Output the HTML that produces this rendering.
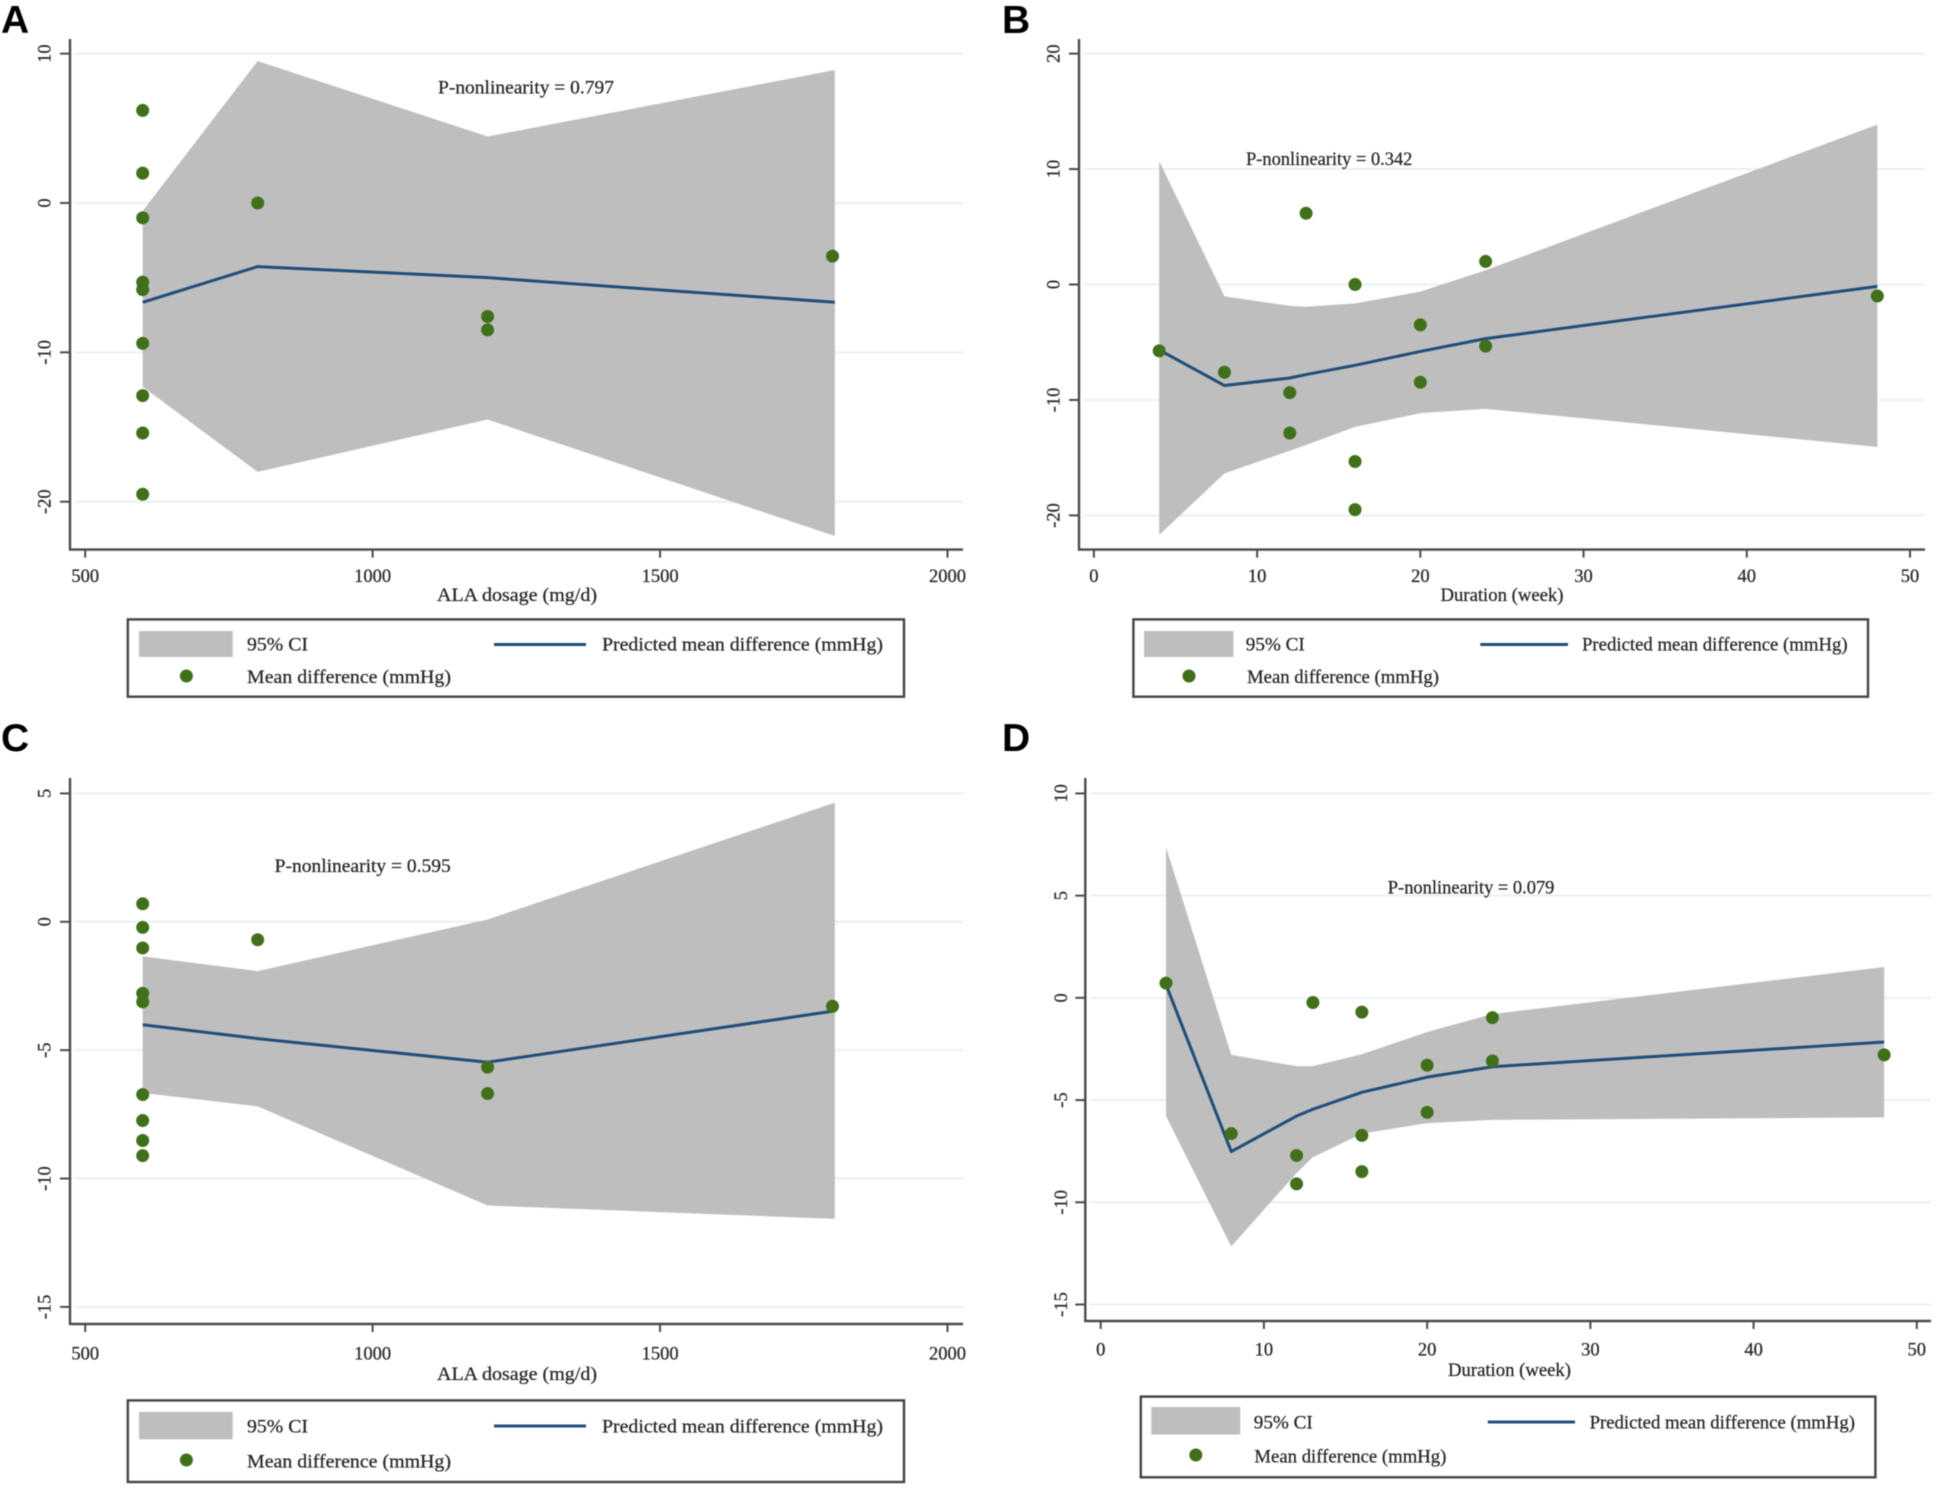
<!DOCTYPE html>
<html lang="en">
<head>
<meta charset="utf-8">
<title>Dose-response and duration-response meta-regression panels</title>
<style>
  html, body { margin: 0; padding: 0; background: #ffffff; }
  #figure { display: block; width: 1936px; height: 1488px; filter: blur(0.65px); }
  text { font-family: "Liberation Serif", serif; font-size: 18.5px; fill: #262626; stroke: #262626; stroke-width: 0.25; }
  .panel-letter { font-family: "Liberation Sans", sans-serif; font-weight: 700; font-size: 39px; fill: #000000; stroke: none; }
  .legend-box { fill: #ffffff; stroke: #444444; stroke-width: 2.4; }
  .legend-swatch { fill: #bebebe; }
  .legend-line { stroke: #1f4e79; stroke-width: 3; }
  .legend-dot { fill: #41701a; }
</style>
</head>
<body>
<svg id="figure" xmlns="http://www.w3.org/2000/svg" width="1936" height="1488" viewBox="0 0 1936 1488">
  <g id="marks-a"></g>
  <g id="marks-b"></g>
  <g id="marks-c"></g>
  <g id="marks-d"></g>

  <!-- Panel A -->
  <g>
    <text class="panel-letter" x="1" y="33">A</text>
    <text x="438" y="93.5" textLength="176" lengthAdjust="spacingAndGlyphs">P-nonlinearity = 0.797</text>
    <text x="437" y="601" textLength="160" lengthAdjust="spacingAndGlyphs">ALA dosage (mg/d)</text>
    <g>
      <rect class="legend-box" x="127.8" y="619.4" width="776.2" height="77.3"/>
      <rect class="legend-swatch" x="139" y="631" width="93.7" height="26"/>
      <text x="247" y="650.5" textLength="61" lengthAdjust="spacingAndGlyphs">95% CI</text>
      <line class="legend-line" x1="494" y1="644.5" x2="586" y2="644.5"/>
      <text x="602" y="650.5" textLength="281" lengthAdjust="spacingAndGlyphs">Predicted mean difference (mmHg)</text>
      <circle class="legend-dot" cx="186.4" cy="676" r="6.5"/>
      <text x="247" y="683" textLength="204" lengthAdjust="spacingAndGlyphs">Mean difference (mmHg)</text>
    </g>
  </g>

  <!-- Panel B -->
  <g>
    <text class="panel-letter" x="1002" y="33">B</text>
    <text x="1246" y="165" textLength="166.4" lengthAdjust="spacingAndGlyphs">P-nonlinearity = 0.342</text>
    <text x="1440.5" y="601" textLength="123" lengthAdjust="spacingAndGlyphs">Duration (week)</text>
    <g>
      <rect class="legend-box" x="1133.4" y="619.4" width="734.6" height="77.3"/>
      <rect class="legend-swatch" x="1144" y="631" width="89.4" height="26"/>
      <text x="1245.8" y="650.5" textLength="59" lengthAdjust="spacingAndGlyphs">95% CI</text>
      <line class="legend-line" x1="1480.3" y1="644.5" x2="1568" y2="644.5"/>
      <text x="1582" y="650.5" textLength="265.6" lengthAdjust="spacingAndGlyphs">Predicted mean difference (mmHg)</text>
      <circle class="legend-dot" cx="1189" cy="676" r="6.5"/>
      <text x="1247" y="683" textLength="192" lengthAdjust="spacingAndGlyphs">Mean difference (mmHg)</text>
    </g>
  </g>

  <!-- Panel C -->
  <g>
    <text class="panel-letter" x="1" y="751">C</text>
    <text x="274.7" y="872" textLength="176" lengthAdjust="spacingAndGlyphs">P-nonlinearity = 0.595</text>
    <text x="437" y="1380" textLength="160" lengthAdjust="spacingAndGlyphs">ALA dosage (mg/d)</text>
    <g>
      <rect class="legend-box" x="127.8" y="1400.4" width="776.2" height="81.6"/>
      <rect class="legend-swatch" x="139" y="1411.8" width="93.7" height="27.5"/>
      <text x="247" y="1432.5" textLength="61" lengthAdjust="spacingAndGlyphs">95% CI</text>
      <line class="legend-line" x1="494" y1="1426" x2="586" y2="1426"/>
      <text x="602" y="1432.5" textLength="281" lengthAdjust="spacingAndGlyphs">Predicted mean difference (mmHg)</text>
      <circle class="legend-dot" cx="186.4" cy="1460" r="6.5"/>
      <text x="247" y="1467.5" textLength="204" lengthAdjust="spacingAndGlyphs">Mean difference (mmHg)</text>
    </g>
  </g>

  <!-- Panel D -->
  <g>
    <text class="panel-letter" x="1002" y="751">D</text>
    <text x="1387.8" y="893.5" textLength="166.6" lengthAdjust="spacingAndGlyphs">P-nonlinearity = 0.079</text>
    <text x="1448" y="1376" textLength="123" lengthAdjust="spacingAndGlyphs">Duration (week)</text>
    <g>
      <rect class="legend-box" x="1140.8" y="1396.6" width="734.6" height="80.7"/>
      <rect class="legend-swatch" x="1151.3" y="1407" width="88.9" height="27.5"/>
      <text x="1253.8" y="1428.5" textLength="59" lengthAdjust="spacingAndGlyphs">95% CI</text>
      <line class="legend-line" x1="1487.8" y1="1422" x2="1575" y2="1422"/>
      <text x="1589.6" y="1428.5" textLength="265.4" lengthAdjust="spacingAndGlyphs">Predicted mean difference (mmHg)</text>
      <circle class="legend-dot" cx="1195.8" cy="1455" r="6.5"/>
      <text x="1254.4" y="1462.5" textLength="192" lengthAdjust="spacingAndGlyphs">Mean difference (mmHg)</text>
    </g>
  </g>
</svg>

<script>
// ---- Panel A data (ALA dosage vs mean difference) ----
const aXTicks = [500, 1000, 1500, 2000];
const aYTicks = [10, 0, -10, -20];
const aKnots = [600, 800, 1200, 1804];
const aUpper = [-0.54, 9.5, 4.45, 8.9];
const aLower = [-12.3, -18.0, -14.5, -22.3];
const aPredicted = [-6.65, -4.26, -5.0, -6.65];
const aPointX = [600, 600, 600, 600, 600, 600, 600, 600, 600, 800, 1200, 1200, 1800];
const aPointY = [6.2, 2.0, -1.0, -5.3, -5.8, -9.4, -12.9, -15.4, -19.5, 0, -7.6, -8.5, -3.56];

// ---- Panel B data (duration vs mean difference) ----
const bXTicks = [0, 10, 20, 30, 40, 50];
const bYTicks = [20, 10, 0, -10, -20];
const bKnots = [4, 8, 12, 13, 16, 20, 24, 48];
const bUpper = [10.7, -1.03, -1.85, -1.93, -1.64, -0.62, 1.23, 13.85];
const bLower = [-21.7, -16.36, -14.4, -13.9, -12.33, -11.14, -10.77, -14.06];
const bPredicted = [-5.67, -8.75, -8.1, -7.8, -7.0, -5.8, -4.69, -0.16];
const bPointX = [4, 8, 12, 12, 13, 16, 16, 16, 20, 20, 24, 24, 48];
const bPointY = [-5.75, -7.6, -9.37, -12.86, 6.17, 0, -15.33, -19.5, -3.5, -8.47, 2.0, -5.34, -1.0];

// ---- Panel C data (ALA dosage vs mean difference) ----
const cXTicks = [500, 1000, 1500, 2000];
const cYTicks = [5, 0, -5, -10, -15];
const cKnots = [600, 800, 1200, 1804];
const cUpper = [-1.35, -1.92, 0.09, 4.64];
const cLower = [-6.67, -7.19, -11.05, -11.57];
const cPredicted = [-4.01, -4.55, -5.47, -3.47];
const cPointX = [600, 600, 600, 600, 600, 600, 600, 600, 600, 800, 1200, 1200, 1800];
const cPointY = [0.7, -0.22, -1.02, -2.79, -3.12, -6.73, -7.74, -8.52, -9.11, -0.7, -5.66, -6.69, -3.29];

// ---- Panel D data (duration vs mean difference) ----
const dXTicks = [0, 10, 20, 30, 40, 50];
const dYTicks = [10, 5, 0, -5, -10, -15];
const dKnots = [4, 8, 12, 13, 16, 20, 24, 48];
const dUpper = [7.38, -2.79, -3.34, -3.34, -2.76, -1.67, -0.79, 1.51];
const dLower = [-5.78, -12.16, -8.57, -7.8, -6.64, -6.13, -5.97, -5.85];
const dPredicted = [0.65, -7.52, -5.78, -5.45, -4.62, -3.88, -3.37, -2.16];
const dPointX = [4, 8, 12, 12, 13, 16, 16, 16, 20, 20, 24, 24, 48];
const dPointY = [0.72, -6.64, -7.71, -9.1, -0.23, -0.7, -6.73, -8.5, -3.3, -5.6, -0.97, -3.09, -2.79];

const SVG_NS = 'http://www.w3.org/2000/svg';

function svgEl(tag, attrs, parent) {
  const el = document.createElementNS(SVG_NS, tag);
  Object.keys(attrs).forEach(function (k) { el.setAttribute(k, attrs[k]); });
  parent.appendChild(el);
  return el;
}

function linearScale(d0, d1, r0, r1) {
  return function (v) { return r0 + (v - d0) * (r1 - r0) / (d1 - d0); };
}

function drawPanel(cfg) {
  const root = document.getElementById(cfg.rootId);
  const x = linearScale(cfg.xTicks[0], cfg.xTicks[cfg.xTicks.length - 1], cfg.xPx0, cfg.xPx1);
  const y = linearScale(cfg.yTicks[0], cfg.yTicks[cfg.yTicks.length - 1], cfg.yPx0, cfg.yPx1);

  // horizontal grid lines
  cfg.yTicks.forEach(function (t) {
    const grid = svgEl('line', { x1: cfg.left + 4.5, x2: cfg.right, y1: y(t), y2: y(t), stroke: '#e7f1f3', 'stroke-width': 2 }, root);
    
    
  });

  // confidence band
  const upperPts = cfg.knots.map(function (k, i) { return x(k) + ',' + y(cfg.upper[i]); });
  const lowerPts = cfg.knots.map(function (k, i) { return x(k) + ',' + y(cfg.lower[i]); }).reverse();
  const band = svgEl('polygon', { points: upperPts.concat(lowerPts).join(' '), fill: '#bebebe' }, root);
  
  

  // predicted line
  const linePts = cfg.knots.map(function (k, i) { return x(k) + ',' + y(cfg.predicted[i]); }).join(' ');
  const predictedLine = svgEl('polyline', { points: linePts, fill: 'none', stroke: '#1f4e79', 'stroke-width': 3, 'stroke-linejoin': 'round' }, root);
  
  

  // observed points
  cfg.pointX.forEach(function (px, i) {
    const dot = svgEl('circle', { cx: x(px), cy: y(cfg.pointY[i]), r: 6.5, fill: '#41701a' }, root);
    
    
  });

  // axes
  const yAxis = svgEl('line', { x1: cfg.left, x2: cfg.left, y1: cfg.top, y2: cfg.bottom + 1, stroke: '#4a4a4a', 'stroke-width': 2.4 }, root);
  
  
  const xAxis = svgEl('line', { x1: cfg.left - 1, x2: cfg.right, y1: cfg.bottom, y2: cfg.bottom, stroke: '#4a4a4a', 'stroke-width': 2.4 }, root);
  
  

  // x ticks and labels
  cfg.xTicks.forEach(function (t) {
    const tick = svgEl('line', { x1: x(t), x2: x(t), y1: cfg.bottom, y2: cfg.bottom + 8, stroke: '#4a4a4a', 'stroke-width': 2 }, root);
    
    
    const label = svgEl('text', { x: x(t), y: cfg.xLabelY, 'text-anchor': 'middle' }, root);
    label.textContent = String(t);
    
    
  });

  // y ticks and rotated labels
  cfg.yTicks.forEach(function (t) {
    const tick = svgEl('line', { x1: cfg.left - 10, x2: cfg.left, y1: y(t), y2: y(t), stroke: '#4a4a4a', 'stroke-width': 2 }, root);
    
    
    const label = svgEl('text', { x: 0, y: 0, 'text-anchor': 'middle', transform: 'translate(' + cfg.yLabelX + ',' + y(t) + ') rotate(-90)' }, root);
    label.textContent = String(t);
    
    
  });
}

drawPanel({
  rootId: 'marks-a', xTicks: aXTicks, yTicks: aYTicks, knots: aKnots, upper: aUpper, lower: aLower,
  predicted: aPredicted, pointX: aPointX, pointY: aPointY,
  xPx0: 85.2, xPx1: 947.5, yPx0: 53.6, yPx1: 501.7,
  left: 70, right: 963, top: 39, bottom: 549.6, xLabelY: 582, yLabelX: 50.5
});
drawPanel({
  rootId: 'marks-b', xTicks: bXTicks, yTicks: bYTicks, knots: bKnots, upper: bUpper, lower: bLower,
  predicted: bPredicted, pointX: bPointX, pointY: bPointY,
  xPx0: 1093.9, xPx1: 1910, yPx0: 53.6, yPx1: 515.4,
  left: 1079, right: 1925, top: 39, bottom: 549.6, xLabelY: 582, yLabelX: 1059.5
});
drawPanel({
  rootId: 'marks-c', xTicks: cXTicks, yTicks: cYTicks, knots: cKnots, upper: cUpper, lower: cLower,
  predicted: cPredicted, pointX: cPointX, pointY: cPointY,
  xPx0: 85.2, xPx1: 947.5, yPx0: 793.4, yPx1: 1306.9,
  left: 70, right: 963, top: 778, bottom: 1324, xLabelY: 1359.5, yLabelX: 50.5
});
drawPanel({
  rootId: 'marks-d', xTicks: dXTicks, yTicks: dYTicks, knots: dKnots, upper: dUpper, lower: dLower,
  predicted: dPredicted, pointX: dPointX, pointY: dPointY,
  xPx0: 1100.7, xPx1: 1916.8, yPx0: 793.4, yPx1: 1304.5,
  left: 1085.3, right: 1931, top: 778, bottom: 1321, xLabelY: 1355.5, yLabelX: 1067
});
</script>
</body>
</html>
